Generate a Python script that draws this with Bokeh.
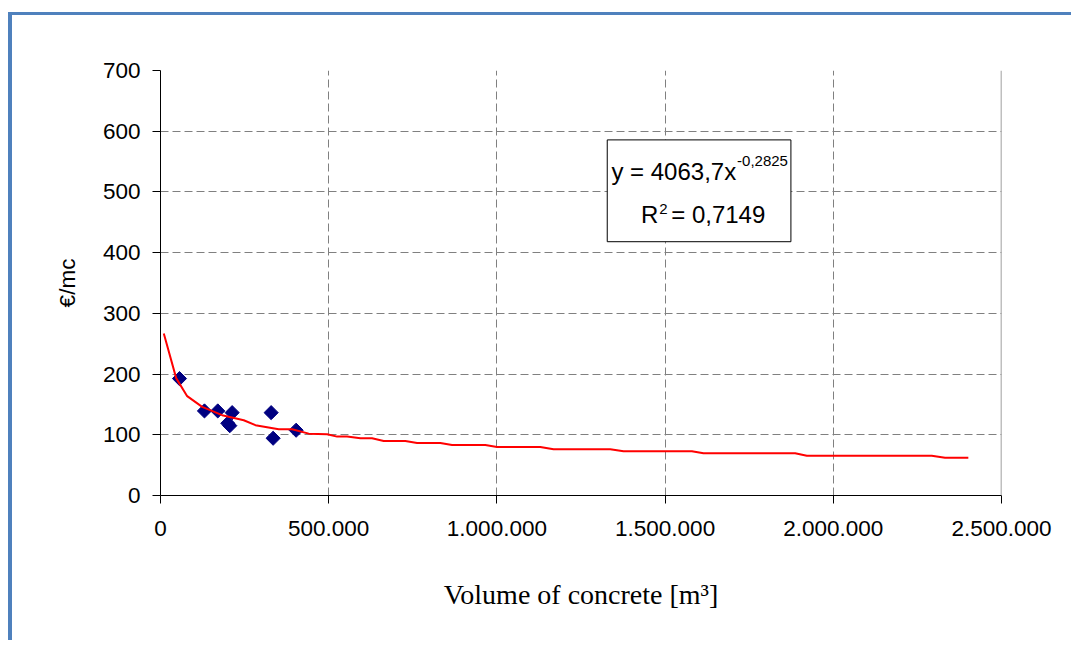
from bokeh.plotting import figure
from bokeh.models import Range1d, Span, CustomJSTickFormatter, FixedTicker
from bokeh.core.properties import value
from bokeh.embed import file_html
from bokeh.resources import INLINE

# ---- data ----
volume = [56400, 130700, 170200, 213000, 200000, 206000, 328900, 334800, 403200]
cost = [192.6, 139.3, 139.3, 136.5, 119.0, 115.0, 136.5, 94.3, 107.5]

trend_x = [9800, 46600, 79300, 123900, 183300, 247500, 282200, 351500, 391300,
           440600, 495300, 525000, 554700, 594200, 629000, 663400, 727900,
           762700, 831900, 866600, 965600, 1000300, 1129000, 1168500, 1336900,
           1376400, 1579600, 1614100, 1886600, 1921300, 2292700, 2332200, 2401400]
trend_y = [266.8, 193.3, 163.6, 145.9, 132.3, 124.0, 115.8, 109.2, 109.2,
           101.9, 100.9, 97.0, 97.0, 94.3, 94.3, 89.9, 89.9,
           86.6, 86.6, 83.3, 83.3, 80.0, 80.0, 76.2, 76.2,
           72.9, 72.9, 69.6, 69.6, 65.6, 65.6, 62.3, 62.3]

x_ticks = [0, 500000, 1000000, 1500000, 2000000, 2500000]
y_ticks = [0, 100, 200, 300, 400, 500, 600, 700]

eq_main = "y = 4063,7x"
eq_exp = "-0,2825"
r2_main = "R"
r2_exp = "2"
r2_rest = "= 0,7149"

x_title = "Volume of concrete [m\u00b3]"
y_title = "\u20ac/mc"

SANS = "Liberation Sans"

p = figure(frame_width=841, frame_height=425,
           min_border_left=148, min_border_top=55, min_border_right=70,
           min_border_bottom=145,
           x_range=Range1d(0, 2500000), y_range=Range1d(0, 700),
           output_backend="svg", toolbar_location=None)

p.styles = {"border-left": "4px solid #4F81BD", "border-top": "3px solid #4F81BD",
            "margin-top": "12px", "margin-left": "8px"}
p.outline_line_color = None
p.background_fill_color = "white"
p.border_fill_color = "white"

# axes
for ax in (p.xaxis, p.yaxis):
    ax.axis_line_color = "black"
    ax.axis_line_width = 1
    ax.major_tick_line_color = "black"
    ax.major_tick_out = 8
    ax.major_tick_in = 0
    ax.minor_tick_line_color = None
    ax.major_label_text_font = SANS
    ax.major_label_text_font_size = "22.5px"
    ax.major_label_text_color = "black"

p.xaxis.major_label_standoff = 17
p.yaxis.major_label_standoff = 12

p.xaxis.ticker = FixedTicker(ticks=x_ticks)
p.yaxis.ticker = FixedTicker(ticks=y_ticks)
p.xaxis.formatter = CustomJSTickFormatter(code="""
    return Math.round(tick).toString().replace(/\\B(?=(\\d{3})+(?!\\d))/g, ".");
""")

p.xaxis.axis_label = x_title
p.xaxis.axis_label_text_font = "Liberation Serif"
p.xaxis.axis_label_text_font_size = "28px"
p.xaxis.axis_label_text_font_style = "normal"
p.xaxis.axis_label_text_color = "black"
p.xaxis.axis_label_standoff = 40

p.yaxis.axis_label = y_title
p.yaxis.axis_label_text_font = SANS
p.yaxis.axis_label_text_font_size = "22.5px"
p.yaxis.axis_label_text_font_style = "normal"
p.yaxis.axis_label_text_color = "black"
p.yaxis.axis_label_standoff = 20

# grid
p.xgrid.ticker = FixedTicker(ticks=x_ticks)
p.ygrid.ticker = FixedTicker(ticks=y_ticks)
for g in (p.xgrid, p.ygrid):
    g.grid_line_color = "#808080"
    g.grid_line_dash = "8 4"
    g.grid_line_width = 1

p.add_layout(Span(location=2500000, dimension="height", line_color="#808080", line_width=1.5))

# data
p.scatter(volume, cost, marker="square", angle=0.785398, size=10,
          fill_color="#000080", line_color="#000080", line_width=1)
p.line(trend_x, trend_y, line_color="#FF0000", line_width=2)

# equation box
p.quad(left=[1328000], right=[1874000], bottom=[418.0], top=[585.7],
       fill_color="white", line_color="black", line_width=1)

p.text(x=[1711300], y=[534.3], text=[eq_main], text_align="right",
       text_baseline="alphabetic", text_font=value(SANS),
       text_font_size=value("24px"), text_color="black")
p.text(x=[1714000], y=[551.5], text=[eq_exp], text_align="left",
       text_baseline="alphabetic", text_font=value(SANS),
       text_font_size=value("15px"), text_color="black")
p.text(x=[1479600], y=[462.5], text=[r2_main], text_align="right",
       text_baseline="alphabetic", text_font=value(SANS),
       text_font_size=value("24px"), text_color="black")
p.text(x=[1482500], y=[471.6], text=[r2_exp], text_align="left",
       text_baseline="alphabetic", text_font=value(SANS),
       text_font_size=value("15px"), text_color="black")
p.text(x=[1518200], y=[462.5], text=[r2_rest], text_align="left",
       text_baseline="alphabetic", text_font=value(SANS),
       text_font_size=value("24px"), text_color="black")

open("out.html", "w").write(file_html(p, INLINE))
